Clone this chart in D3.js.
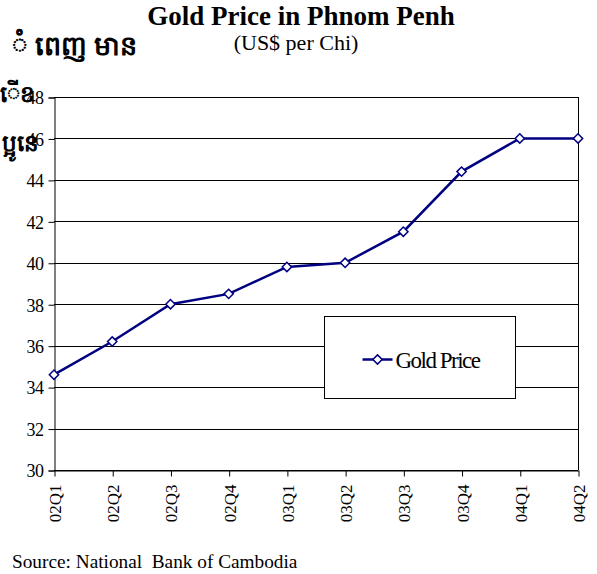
<!DOCTYPE html>
<html>
<head>
<meta charset="utf-8">
<script src="https://cdn.jsdelivr.net/npm/d3@7"></script>
<style>
  body { margin: 0; background: #fff; }
  svg text { font-family: "Liberation Serif", "Times New Roman", serif; fill: #000; }
</style>
</head>
<body>
<svg id="chart" width="597" height="574"></svg>
<script>
//chart data
var quarters = ['02Q1', '02Q2', '02Q3', '02Q4', '03Q1', '03Q2', '03Q3', '03Q4', '04Q1', '04Q2'];
var goldPrice = [34.6, 36.2, 38.0, 38.5, 39.8, 40.0, 41.5, 44.4, 46.0, 46.0];
var yTicks = [30, 32, 34, 36, 38, 40, 42, 44, 46, 48];
var seriesName = 'Gold Price';

var svg = d3.select('#chart'),
    plot = { left: 54, top: 97, right: 578, bottom: 470 },
    navy = '#000080',
    serif = '"Liberation Serif", "Times New Roman", serif';

var x = d3.scalePoint().domain(quarters).range([plot.left, plot.right]);
var y = d3.scaleLinear().domain([30, 48]).range([plot.bottom, plot.top]);

//title
svg.append('text').attr('x', 301).attr('y', 25).attr('text-anchor', 'middle')
    .style('font-size', '27px').style('font-weight', 'bold').text('Gold Price in Phnom Penh');
svg.append('text').attr('x', 296).attr('y', 50).attr('text-anchor', 'middle')
    .style('font-size', '22px').text('(US$ per Chi)');

//khmer fragments (drawn behind the tick labels)
svg.append('text').attr('x', 12).attr('y', 55).style('font-size', '27px').style('font-weight', 'bold').text('ំ ពេញ មាន');
svg.append('text').attr('x', 0).attr('y', 102).style('font-size', '23px').style('font-weight', 'bold').text('ើខ');
svg.append('text').attr('x', 2).attr('y', 151).style('font-size', '23px').style('font-weight', 'bold').text('ប្អូនេ');

//gridlines
svg.append('g').selectAll('line').data(yTicks).enter().append('line')
    .attr('x1', plot.left).attr('x2', plot.right)
    .attr('y1', function (d) { return Math.round(y(d)) + 0.5; })
    .attr('y2', function (d) { return Math.round(y(d)) + 0.5; })
    .attr('stroke', '#000').attr('stroke-width', 1);

//right border
svg.append('line').attr('x1', plot.right + 0.5).attr('x2', plot.right + 0.5)
    .attr('y1', plot.top).attr('y2', plot.bottom).attr('stroke', '#000');

//y axis
var yAxis = svg.append('g').attr('transform', 'translate(' + (plot.left + 0.5) + ',0.5)')
    .call(d3.axisLeft(y).tickValues(yTicks).tickSize(6).tickPadding(5));
yAxis.attr('font-family', null).attr('font-size', null);
yAxis.select('.domain').attr('stroke', '#000');
yAxis.selectAll('text').style('font-size', '18px').style('font-family', serif).style('letter-spacing', '-0.5px').attr('dy', '0.35em');
yAxis.selectAll('line').attr('stroke', '#000');

//x axis
var xAxis = svg.append('g').attr('transform', 'translate(0.5,' + (plot.bottom + 0.5) + ')')
    .call(d3.axisBottom(x).tickSize(6).tickSizeOuter(0));
xAxis.attr('font-family', null).attr('font-size', null);
xAxis.select('.domain').attr('stroke', '#000');
xAxis.selectAll('line').attr('stroke', '#000');
xAxis.selectAll('text')
    .style('font-size', '17px').style('font-family', serif)
    .attr('transform', 'rotate(-90)')
    .attr('text-anchor', 'end')
    .attr('x', -14).attr('y', 0).attr('dy', '0.35em');

//line
var line = d3.line().x(function (d, i) { return x(quarters[i]); }).y(function (d) { return y(d); });
svg.append('path').datum(goldPrice).attr('d', line)
    .attr('fill', 'none').attr('stroke', navy).attr('stroke-width', 2.5);

//markers
var diamond = d3.symbol().type(d3.symbolDiamond2).size(55);
svg.append('g').selectAll('path').data(goldPrice).enter().append('path')
    .attr('d', diamond)
    .attr('transform', function (d, i) { return 'translate(' + x(quarters[i]) + ',' + y(d) + ')'; })
    .attr('fill', '#fff').attr('stroke', navy).attr('stroke-width', 1.5);

//legend
var legend = svg.append('g').attr('transform', 'translate(324.5,316.5)');
legend.append('rect').attr('width', 191).attr('height', 82).attr('fill', '#fff').attr('stroke', '#000');
legend.append('line').attr('x1', 38).attr('x2', 68).attr('y1', 43).attr('y2', 43)
    .attr('stroke', navy).attr('stroke-width', 2.5);
legend.append('path').attr('d', diamond).attr('transform', 'translate(53,43)')
    .attr('fill', '#fff').attr('stroke', navy).attr('stroke-width', 1.5);
legend.append('text').attr('x', 71).attr('y', 51).style('font-size', '23px').style('letter-spacing', '-1.5px').text(seriesName);

//source
svg.append('text').attr('x', 12).attr('y', 568).attr('xml:space', 'preserve')
    .style('font-size', '19.3px').style('white-space', 'pre').text('Source: National  Bank of Cambodia');
</script>
</body>
</html>
